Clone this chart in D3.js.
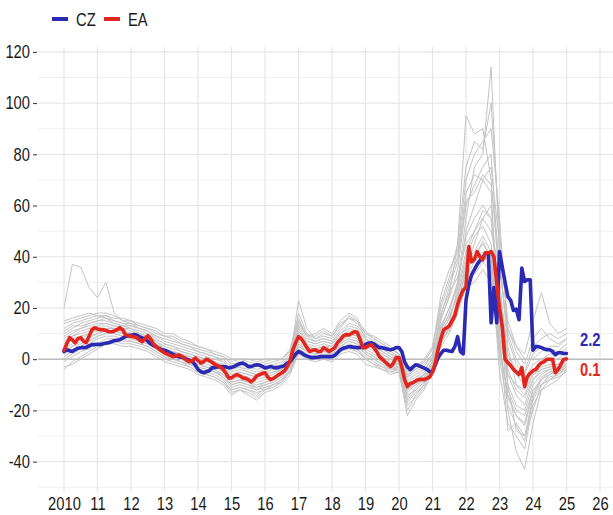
<!DOCTYPE html>
<html>
<head>
<meta charset="utf-8">
<script src="https://cdn.jsdelivr.net/npm/d3@7"></script>
<style>
html,body{margin:0;padding:0;background:#fff;}
svg text{font-family:'Liberation Sans',Arial,sans-serif;transform-box:fill-box;}
.nx{transform:scaleX(0.82);transform-origin:center;}
.nr{transform:scaleX(0.82);transform-origin:right;}
.nl{transform:scaleX(0.82);transform-origin:left;}
</style>
</head>
<body>
<svg id="chart" width="613" height="515"></svg>
<script>
// ---- data ----
const seriesNames = ["CZ", "EA"];
const seriesColors = ["#2a2ab4", "#e2261e"];
const xTickValues = [2010,2011,2012,2013,2014,2015,2016,2017,2018,2019,2020,2021,2022,2023,2024,2025,2026];
const xTickLabels = ["2010","11","12","13","14","15","16","17","18","19","20","21","22","23","24","25","26"];
const yTickValues = [-40,-20,0,20,40,60,80,100,120];
const endLabels = ["2.2", "0.1"];

// monthly, Jan 2010 .. Jan 2025
const czValues = [
 3,3.7,3.3,3,3.7,4.3,4.5,4.5,4.6,5.2,5.7,5.7,
 5.8,5.7,6,6.2,6.4,6.8,7.2,7.4,7.6,8.2,8.8,9.2,
 9.3,9.6,9.4,8.8,8.3,8,7,6,5.3,4.9,4.2,3.7,
 3.5,3,2.5,2,1.5,1,0.8,0.5,0,-0.5,-1,-2.2,
 -4,-4.9,-5.3,-4.9,-4.5,-3.4,-3.2,-3,-2.9,-2.9,-3,-3.4,
 -3.2,-2.8,-2.2,-1.8,-1.5,-2,-2.9,-2.9,-2.5,-2.2,-2.3,-2.8,
 -3.4,-3.2,-2.9,-3.2,-3.4,-3.2,-2.9,-2.5,-1.5,-1,0.5,2,
 3,2.5,1.7,1.2,0.8,0.6,0.7,0.8,1,1,1,1,
 1,1.5,2.5,3.7,4.3,4.6,4.9,4.8,4.6,4.5,4.5,5,
 5.8,6.2,6.4,6,5.2,4.5,4.5,4.2,3.9,3.7,4,4.5,
 4.5,3,-1,-3,-4.1,-3,-2.2,-2.5,-3,-3.5,-4,-4.9,
 -4.9,-2.2,0.5,2.2,3.5,3.5,3.2,3,4.9,8.8,3,2.1,
 23,29,33,35,37,38.5,39.6,41.5,41.5,14.2,28,14.2,
 42,36,30,24.4,23,19,19.5,15.4,35.6,30.3,31,31,
 3.5,4.9,4.9,4.5,4,3.7,3.7,3,1.7,2.5,2.5,2.2,
 2.2
];
const eaValues = [
 3.5,6,8.4,7.5,6.4,8,8.4,7,6.5,9,11.5,12.3,
 11.8,11.5,11.5,11.2,10.8,10.7,11,11.5,12.3,11.5,9.6,9.2,
 9,8.8,8.5,7.5,6.8,8,9.2,8,6,4.9,4,3.2,
 2.5,2,1.5,1,1.2,1.7,1.2,0.5,-0.5,-1,-0.6,0.5,
 -0.5,-1.5,-1,0,-0.5,-1.2,-2,-2.5,-3,-4,-5.5,-7.3,
 -7.3,-6.5,-6,-6.5,-7.3,-7.5,-8,-8.8,-8,-6.5,-6,-5.5,
 -5.3,-7,-8,-7.5,-6.8,-6,-5.3,-4.5,-2.9,-0.5,3.7,6.5,
 8.8,8,6.4,4.5,3,3.5,3.7,3,3,4.5,3.8,3,
 3.7,4.5,6.5,7.6,9,9.6,9.5,10,10.7,10.5,8,4.5,
 4.5,5.2,5.7,4.5,3,1,0,-1,-2,-2.9,-1.5,0.6,
 0.6,-3,-8,-10.7,-9.5,-9.2,-8.5,-8,-7.8,-8,-7.5,-7,
 -5,-1.5,3.7,8,11.5,12.2,13,15,17,21.5,24.5,27,
 28,44,38,39,42,40,38.8,41.5,41.5,42,40,30,
 20,12.7,0,-1.4,-2.5,-4,-5,-6,-3.3,-10.7,-6.8,-5.5,
 -4.5,-4,-2.5,-1.4,-1,0,0,0,-5.3,-4,-2,0,
 0.1
];

// other countries, quarterly, 2010Q1 .. 2025Q1
const gray01 = [20,37,36,28, 24,30,18,15, 14,12,11,8, 6,5,3,2, 1,0,-1,-3, -6,-5,-6,-7, -6,-5,-4,-1, 10,6,5,6, 5,8,10,9, 6,4,2,0, -2,-10,-8,-6, -1,12,20,30, 55,75,80,114, 40,5,-10,-12, -6,-3,-2,-2, 1];
const gray02 = [8,10,12,14, 15,16,14,13, 12,10,9,7, 4,3,2,0, -2,-3,-4,-6, -10,-9,-10,-11, -10,-9,-7,-3, 6,3,2,3, 3,6,8,7, 3,1,-1,-3, -4,-14,-12,-9, -3,15,25,45, 95,88,90,70, 30,-10,-28,-30, -20,-10,-6,-4, -2];
const gray03 = [-3,-2,0,2, 4,6,6,5, 5,4,3,1, -1,-2,-3,-4, -6,-7,-8,-10, -14,-12,-13,-15, -12,-11,-9,-5, 4,2,1,1, 0,3,5,4, 1,-1,-3,-5, -5,-20,-14,-10, -4,6,12,22, 35,45,55,60, 20,-20,-36,-43, -25,-12,-8,-6, -4];
const gray04 = [2,4,5,7, 9,10,10,9, 8,7,6,4, 2,1,0,-1, -3,-4,-5,-7, -11,-10,-11,-12, -11,-10,-8,-4, 5,3,2,2, 2,5,7,6, 2,0,-2,-4, -3,-16,-12,-9, -2,9,14,28, 50,60,70,65, 10,-28,-25,-30, -15,-8,-5,-5, -3];
const gray05 = [10,12,14,15, 16,17,15,14, 13,12,11,9, 7,6,5,4, 3,2,1,0, -3,-2,-3,-4, -3,-2,-1,2, 14,9,7,8, 7,11,14,13, 9,7,5,3, 1,-6,-4,-2, 2,18,26,32, 45,50,55,50, 35,12,5,2, 15,26,14,10, 12];
const gray06 = [5,8,9,10, 12,13,12,11, 10,9,8,6, 4,3,2,1, 0,-1,-2,-4, -7,-6,-7,-8, -7,-6,-4,0, 23,12,8,9, 8,12,17,15, 8,5,3,1, -1,-12,-9,-7, -2,11,18,30, 48,55,60,55, 20,-4,-12,-15, -8,-5,-4,-5, -2];
const gray07 = [0,2,4,6, 8,9,9,8, 7,6,5,3, 1,0,-1,-2, -4,-5,-6,-8, -12,-11,-12,-13, -12,-10,-8,-5, 3,1,0,1, 0,3,4,3, 0,-2,-4,-6, -5,-22,-16,-12, -5,5,10,18, 28,30,35,30, 5,-15,-22,-25, -12,-10,-8,-7, -5];
const gray08 = [12,14,15,16, 17,16,15,14, 14,13,12,10, 9,8,6,5, 4,3,2,1, -1,0,-1,-2, -1,0,0,3, 18,10,8,10, 9,13,16,14, 10,8,6,4, 2,-5,-3,-1, 4,25,35,42, 70,80,85,90, 55,10,0,-5, 5,8,10,8, 10];
const gray09 = [3,5,7,9, 10,11,11,10, 9,8,7,5, 3,2,1,-1, -2,-3,-4,-6, -9,-8,-9,-10, -9,-8,-6,-2, 9,5,4,5, 4,7,9,8, 4,2,0,-2, -3,-12,-10,-8, -3,10,16,26, 40,48,52,45, 12,-10,-18,-20, -10,-6,-4,-3, -1];
const gray10 = [6,9,11,12, 13,14,13,12, 11,10,9,7, 5,4,3,2, 1,0,-1,-2, -5,-4,-5,-6, -5,-4,-3,0, 11,7,6,7, 6,9,11,10, 7,5,3,1, 0,-8,-6,-4, 0,13,20,28, 42,50,58,55, 25,0,-6,-10, -4,-2,0,0, 3];
const gray11 = [-4,-1,1,3, 5,7,7,6, 6,5,4,2, 0,-1,-2,-3, -5,-6,-7,-9, -13,-12,-14,-16, -13,-12,-10,-6, 2,0,-1,0, -1,2,3,2, -2,-3,-4,-5, -4,-18,-15,-11, -4,7,12,20, 30,35,40,38, -5,-25,-30,-35, -18,-12,-10,-8, -4];
const gray12 = [15,16,17,18, 17,17,16,16, 15,14,13,12, 10,10,8,7, 5,4,3,2, 0,0,0,-1, 0,0,0,4, 16,9,10,12, 10,15,18,16, 10,9,7,5, 2,-7,-3,0, 5,20,30,40, 65,72,70,75, 45,15,5,0, 0,3,5,5, 8];
const gray13 = [4,6,8,10, 11,12,12,11, 10,9,8,6, 3,2,1,0, -1,-2,-3,-5, -8,-7,-8,-9, -8,-7,-5,-1, 7,4,3,4, 3,6,8,7, 5,3,1,-1, -2,-11,-9,-6, -1,12,17,24, 38,42,48,42, 8,-6,-14,-18, -8,-4,-3,-2, 0];
const gray14 = [1,3,5,7, 9,10,10,9, 8,7,6,4, 2,1,0,-2, -3,-4,-5,-7, -10,-9,-10,-12, -10,-9,-7,-3, 5,3,2,3, 2,4,6,5, 2,0,-2,-3, -3,-15,-11,-8, -2,8,13,20, 32,38,42,36, 2,-12,-20,-22, -12,-8,-6,-5, -2];
const gray15 = [9,11,12,13, 14,14,13,12, 12,11,10,8, 6,5,4,3, 2,1,0,-1, -4,-3,-4,-5, -4,-3,-2,1, 12,7,6,7, 6,10,12,11, 8,6,4,2, 0,-9,-7,-5, 1,16,24,35, 60,68,75,80, 30,2,-4,-8, -2,0,2,2, 4];
const gray16 = [7,9,10,11, 12,12,12,11, 10,9,9,7, 4,3,2,1, 0,-1,-2,-3, -6,-5,-6,-7, -6,-5,-4,-1, 8,5,4,5, 5,8,10,9, 6,4,2,0, -1,-10,-8,-6, -1,10,16,25, 36,40,45,40, 15,-6,-10,-14, -6,-4,-3,-3, -1];
const gray17 = [11,13,13,14, 15,15,14,13, 13,12,11,9, 8,7,6,5, 3,2,1,-1, -4,-3,-5,-6, -5,-4,-2,1, 13,8,7,8, 7,10,13,12, 8,6,4,2, 1,-7,-5,-3, 2,17,28,38, 62,65,72,68, 38,8,-2,-6, 2,5,4,3, 6];
const gray18 = [-1,1,3,4, 6,8,8,7, 7,6,5,3, 1,0,-1,-3, -5,-6,-7,-9, -12,-11,-12,-14, -11,-10,-9,-4, 4,2,0,1, 1,3,5,4, 0,-2,-3,-4, -4,-17,-13,-10, -3,7,11,19, 30,33,38,34, 0,-18,-26,-32, -16,-10,-7,-6, -3];
const gray19 = [14,15,16,17, 18,18,17,15, 15,13,12,11, 9,9,7,6, 5,4,2,1, -2,-1,-2,-3, -2,-1,0,3, 15,9,9,11, 9,14,16,15, 11,8,6,4, 2,-6,-4,-1, 4,22,32,45, 75,85,82,100, 50,12,3,-2, 8,12,8,6, 8];
const gray20 = [2,5,6,8, 10,11,11,10, 9,8,7,5, 3,2,0,-1, -2,-3,-5,-6, -9,-8,-9,-11, -9,-8,-6,-2, 6,4,3,3, 3,5,7,6, 3,1,-1,-2, -2,-13,-10,-7, -2,9,14,22, 34,40,46,40, 5,-14,-22,-26, -14,-7,-5,-4, -2];
const grayList = [gray01,gray02,gray03,gray04,gray05,gray06,gray07,gray08,gray09,gray10,
                  gray11,gray12,gray13,gray14,gray15,gray16,gray17,gray18,gray19,gray20];

// ---- chart ----
const svg = d3.select("#chart");
const pLeft = 38, pRight = 613, pTop = 47, pBottom = 488;

const x = d3.scaleLinear().domain([2009.224, 2026.388]).range([pLeft, pRight]);
const y = d3.scaleLinear().domain([-50.3, 121.9]).range([pBottom, pTop]);

const monthT = czValues.map((_, i) => 2010 + i / 12);
const quarterT = gray01.map((_, i) => 2010 + i / 4);

const g = svg.append("g");

// minor horizontal grid
const minorY = [-50, -30, -10, 10, 30, 50, 70, 90, 110];
g.selectAll("line.minor").data(minorY).join("line")
  .attr("x1", pLeft).attr("x2", pRight)
  .attr("y1", d => y(d)).attr("y2", d => y(d))
  .attr("stroke", "#efefef").attr("stroke-width", 1);
// major horizontal grid
g.selectAll("line.majy").data(yTickValues).join("line")
  .attr("x1", pLeft).attr("x2", pRight)
  .attr("y1", d => y(d)).attr("y2", d => y(d))
  .attr("stroke", "#e6e6e6").attr("stroke-width", 1.2);
// vertical grid
g.selectAll("line.majx").data(xTickValues).join("line")
  .attr("x1", d => x(d)).attr("x2", d => x(d))
  .attr("y1", pTop).attr("y2", pBottom + 4)
  .attr("stroke", "#e6e6e6").attr("stroke-width", 1.2);

// zero line
g.append("line").attr("x1", pLeft).attr("x2", pRight)
  .attr("y1", y(0)).attr("y2", y(0))
  .attr("stroke", "#bdbdbd").attr("stroke-width", 1.6);

// y axis labels
const yAxis = d3.axisLeft(y).tickValues(yTickValues).tickSize(4).tickPadding(3).tickFormat(d => String(d));
const ya = svg.append("g").attr("transform", `translate(${pLeft - 1},0)`).call(yAxis);
ya.select(".domain").remove();
ya.selectAll(".tick line").attr("stroke", "#333").attr("stroke-width", 1);
ya.selectAll(".tick text").attr("fill", "#1a1a1a").attr("class", "nr")
  .style("font-size", "18px").style("font-family", "'Liberation Sans',Arial,sans-serif");

// x axis labels
const xAxis = d3.axisBottom(x).tickValues(xTickValues).tickSize(0).tickPadding(8)
  .tickFormat((d, i) => xTickLabels[i]);
const xa = svg.append("g").attr("transform", `translate(0,${pBottom + 1})`).call(xAxis);
xa.select(".domain").remove();
xa.selectAll(".tick text").attr("fill", "#1a1a1a").attr("class", "nx")
  .style("font-size", "18px").style("font-family", "'Liberation Sans',Arial,sans-serif");

// gray lines
const grayLine = d3.line().x((d, i) => x(quarterT[i])).y(d => y(d));
g.selectAll("path.gray").data(grayList).join("path")
  .attr("d", grayLine).attr("fill", "none")
  .attr("stroke", "#c4c4c4").attr("stroke-width", 1).attr("stroke-linejoin", "round");

// main lines
const mainLine = d3.line().x((d, i) => x(monthT[i])).y(d => y(d));
[czValues, eaValues].forEach((vals, k) => {
  g.append("path").attr("d", mainLine(vals)).attr("fill", "none")
    .attr("stroke", seriesColors[k]).attr("stroke-width", 3.6)
    .attr("stroke-linejoin", "round").attr("stroke-linecap", "round");
});

// end labels
const endY = [czValues[czValues.length - 1], eaValues[eaValues.length - 1]];
svg.selectAll("text.endlab").data(endLabels).join("text")
  .attr("class", "nl")
  .attr("x", 580)
  .attr("y", (d, i) => i === 0 ? y(endY[0]) - 8 : y(endY[1]) + 17)
  .attr("fill", (d, i) => seriesColors[i])
  .style("font-size", "18px").style("font-weight", "bold")
  .text(d => d);

// legend
const leg = svg.append("g");
const legX = [52, 104];
seriesNames.forEach((n, i) => {
  leg.append("line").attr("x1", legX[i]).attr("x2", legX[i] + 16)
    .attr("y1", 19).attr("y2", 19)
    .attr("stroke", seriesColors[i]).attr("stroke-width", 4);
  leg.append("text").attr("class", "nl").attr("x", legX[i] + 24).attr("y", 26)
    .attr("fill", "#1a1a1a").style("font-size", "18px").text(n);
});
</script>
</body>
</html>
